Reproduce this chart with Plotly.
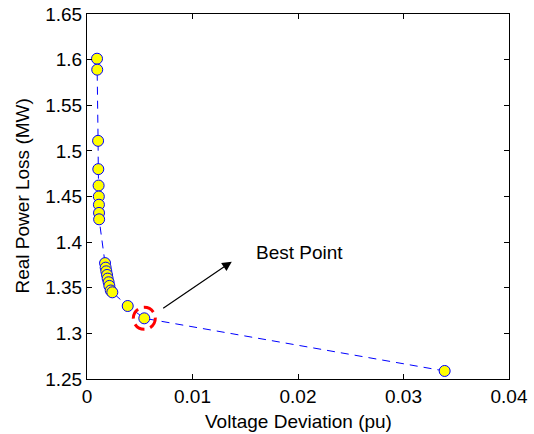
import plotly.graph_objects as go

# Pareto front: voltage deviation (pu) vs real power loss (MW)
voltage_dev = [0.00095, 0.00097, 0.00105, 0.00107, 0.00110, 0.00112, 0.00113, 0.00114, 0.00115,
               0.00171, 0.00177, 0.00183, 0.00190, 0.00196, 0.00205, 0.00212, 0.00225, 0.00240,
               0.00386, 0.00543, 0.0339]
power_loss = [1.601, 1.589, 1.511, 1.480, 1.462, 1.450, 1.441, 1.432, 1.425,
              1.377, 1.372, 1.368, 1.364, 1.360, 1.356, 1.352, 1.347, 1.345,
              1.330, 1.3165, 1.2588]

best_x = [0.00543]
best_y = [1.3165]

arrow_tail = [0.00708, 1.3264]
arrow_tip = [0.01372, 1.3786]
label_pos = [0.0201, 1.389]

x_ticks = [0, 0.01, 0.02, 0.03, 0.04]
x_tick_text = ["0", "0.01", "0.02", "0.03", "0.04"]
y_ticks = [1.25, 1.3, 1.35, 1.4, 1.45, 1.5, 1.55, 1.6, 1.65]
y_tick_text = ["1.25", "1.3", "1.35", "1.4", "1.45", "1.5", "1.55", "1.6", "1.65"]

x_title = "Voltage Deviation (pu)"
y_title = "Real Power Loss (MW)"

font = "Liberation Sans, Arial, sans-serif"
fsize = 19
text_font = dict(family=font, size=fsize, color="#000000")

fig = go.Figure()
fig.add_trace(go.Scatter(
    x=voltage_dev, y=power_loss, mode="lines+markers",
    line=dict(color="#0000ff", width=1, dash="8px,6px"),
    marker=dict(size=11, color="#ffff00", line=dict(color="#0000ff", width=1)),
    showlegend=False, cliponaxis=False,
))

# Dashed red ring around the best compromise point
fig.add_shape(
    type="circle", xref="x", yref="y",
    xsizemode="pixel", ysizemode="pixel",
    xanchor=best_x[0], yanchor=best_y[0],
    x0=-11, x1=11, y0=-11, y1=11,
    line=dict(color="#ff0000", width=3, dash="11px,6px"),
)

fig.add_annotation(
    x=arrow_tip[0], y=arrow_tip[1], ax=arrow_tail[0], ay=arrow_tail[1],
    xref="x", yref="y", axref="x", ayref="y",
    text="", showarrow=True, arrowhead=2, arrowsize=1.6, arrowwidth=1.2,
    arrowcolor="#000000",
)
fig.add_annotation(
    x=label_pos[0], y=label_pos[1], xref="x", yref="y",
    text="Best Point", showarrow=False, font=text_font,
)

# Axis titles placed relative to the plotting area
fig.add_annotation(
    x=0.5, y=0, xref="paper", yref="paper", xanchor="center", yanchor="middle",
    yshift=-42, text=x_title, showarrow=False, font=text_font,
)
fig.add_annotation(
    x=0, y=0.5, xref="paper", yref="paper", xanchor="center", yanchor="middle",
    xshift=-65, textangle=-90, text=y_title, showarrow=False, font=text_font,
)

axis_common = dict(
    showgrid=False, zeroline=False, showline=True, linecolor="#000000", linewidth=1,
    mirror="allticks", ticks="inside", ticklen=5, tickcolor="#000000",
    tickfont=text_font, automargin=False,
)

fig.update_xaxes(range=[0, 0.04], tickvals=x_ticks, ticktext=x_tick_text, **axis_common)
fig.update_yaxes(range=[1.25, 1.65], tickvals=y_ticks, ticktext=y_tick_text, **axis_common)

fig.update_layout(
    width=534, height=434,
    margin=dict(l=87, r=25, t=14, b=55),
    paper_bgcolor="#ffffff", plot_bgcolor="#ffffff",
)

fig.write_html("out.html")
